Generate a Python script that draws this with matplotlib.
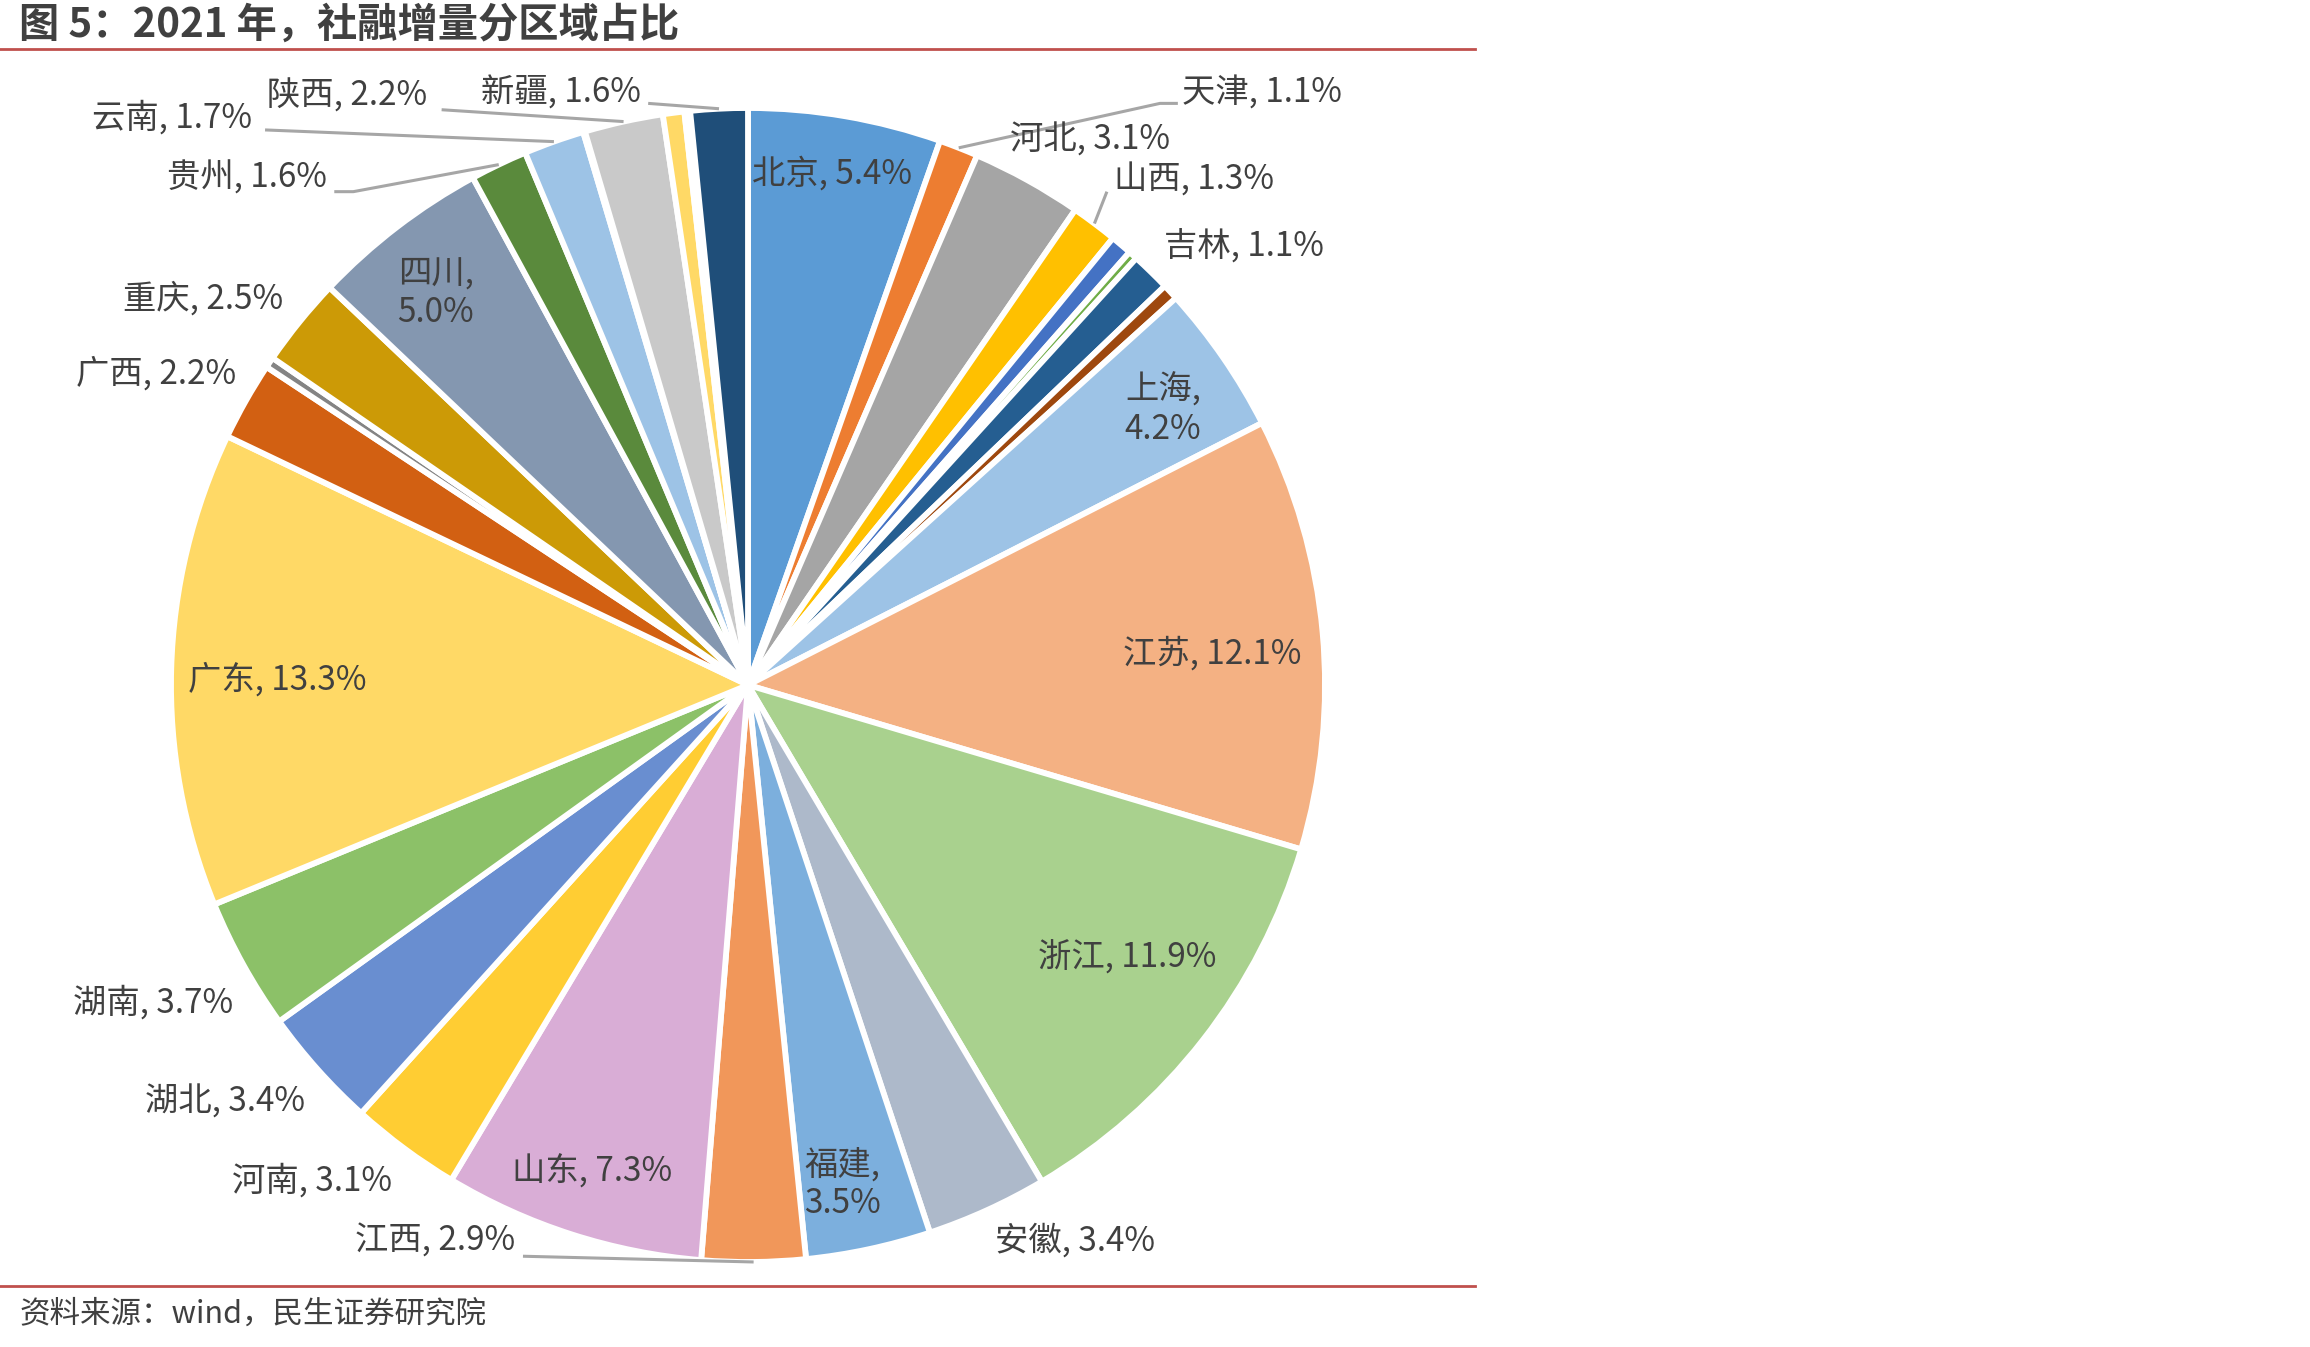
import numpy as np
import matplotlib
matplotlib.use('Agg')
import matplotlib.pyplot as plt

plt.rcParams['font.family'] = ['Noto Sans CJK SC', 'DejaVu Sans']

# share of 2021 social financing increment by province (%), clockwise from top
provinces = ['北京', '天津', '河北', '山西', '内蒙古', '辽宁', '吉林', '黑龙江',
             '上海', '江苏', '浙江', '安徽', '福建', '江西', '山东', '河南',
             '湖北', '湖南', '广东', '广西', '海南', '重庆', '四川', '贵州',
             '云南', '西藏', '陕西', '甘肃', '青海', '宁夏', '新疆']
shares = [5.4, 1.1, 3.1, 1.3, 0.6, 0.25, 1.1, 0.45,
          4.2, 12.1, 11.9, 3.4, 3.5, 2.9, 7.3, 3.1,
          3.4, 3.7, 13.3, 2.2, 0.3, 2.5, 5.0, 1.6,
          1.7, 0.05, 2.2, 0.6, 0.08, 0.08, 1.6]
# labelled slices only; the tiny ones carry no label in the source
labelled = ['北京', '天津', '河北', '山西', '吉林', '上海', '江苏', '浙江', '安徽',
            '福建', '江西', '山东', '河南', '湖北', '湖南', '广东', '广西', '重庆',
            '四川', '贵州', '云南', '陕西', '新疆']
two_line = ['上海', '福建', '四川']

colors = ['#5B9BD5', '#ED7D31', '#A5A5A5', '#FFC000', '#4472C4', '#70AD47', '#255E91', '#9E480E',
          '#9DC3E6', '#F4B183', '#A9D18E', '#ADB9CA', '#7CAFDD', '#F1975A', '#D9ADD6', '#FFCD33',
          '#698ED0', '#8CC168', '#FFD966', '#D26012', '#848484', '#CC9A06', '#8497B0', '#5A8A3C',
          '#9DC3E6', '#F4B183', '#C9C9C9', '#FFD966', '#ADB9CA', '#C9C9C9', '#1F4E79']

# label placement (data units, pie radius = 1): x, y, ha
label_pos = {
    '北京': (0.145, 0.885, 'center'), '天津': (0.753, 1.026, 'left'),
    '河北': (0.592, 0.944, 'center'), '山西': (0.635, 0.875, 'left'),
    '吉林': (0.860, 0.760, 'center'), '上海': (0.719, 0.477, 'center'),
    '江苏': (0.804, 0.054, 'center'), '浙江': (0.658, -0.474, 'center'),
    '安徽': (0.566, -0.964, 'center'), '福建': (0.163, -0.865, 'center'),
    '江西': (-0.403, -0.964, 'right'), '山东': (-0.270, -0.842, 'center'),
    '河南': (-0.755, -0.860, 'center'), '湖北': (-0.906, -0.722, 'center'),
    '湖南': (-1.031, -0.551, 'center'), '广东': (-0.816, 0.008, 'center'),
    '广西': (-1.026, 0.538, 'center'), '重庆': (-0.944, 0.668, 'center'),
    '四川': (-0.541, 0.679, 'center'), '贵州': (-0.730, 0.878, 'right'),
    '云南': (-0.860, 0.982, 'right'), '陕西': (-0.556, 1.020, 'right'),
    '新疆': (-0.186, 1.026, 'right'),
}
# leader lines: points after the slice edge
leaders = {
    '天津': [(0.714, 1.008), (0.745, 1.008)],
    '山西': [(0.622, 0.855)],
    '贵州': [(-0.684, 0.855), (-0.717, 0.855)],
    '云南': [(-0.837, 0.962)],
    '陕西': [(-0.531, 0.997)],
    '新疆': [(-0.173, 1.008)],
    '江西': [(-0.390, -0.990)],
}

W, H = 2310, 1347
fig = plt.figure(figsize=(W / 100, H / 100), dpi=100)
cx, cy, r = 748, 685, 577
ax = fig.add_axes([(cx - r) / W, (H - cy - r) / H, 2 * r / W, 2 * r / H])

wedges, _ = ax.pie(shares, colors=colors, startangle=90, counterclock=False,
                   radius=1.0, wedgeprops=dict(edgecolor='white', linewidth=4.2))
ax.set_xlim(-1, 1)
ax.set_ylim(-1, 1)
ax.set_aspect('equal')
ax.axis('off')

txt_color = '#404040'
for w, name, val in zip(wedges, provinces, shares):
    if name not in labelled:
        continue
    x, y, ha = label_pos[name]
    sep = ',\n' if name in two_line else ', '
    ax.text(x, y, f'{name}{sep}{val:.1f}%', ha=ha, va='center', fontsize=24,
            color=txt_color, linespacing=1.15)
    if name in leaders:
        mid = np.deg2rad((w.theta1 + w.theta2) / 2)
        pts = [(np.cos(mid), np.sin(mid))] + leaders[name]
        xs, ys = zip(*pts)
        ax.plot(xs, ys, color='#A6A6A6', lw=2.2, clip_on=False, solid_capstyle='butt')

fig.text(19 / W, 1 - 25 / H, '图 5：2021 年，社融增量分区域占比', fontsize=29,
         fontweight='bold', color='#404040', ha='left', va='center')
fig.add_artist(plt.Line2D([0, 1475 / W], [1 - 49 / H, 1 - 49 / H], color='#C0504D', lw=2))
fig.add_artist(plt.Line2D([0, 1475 / W], [1 - 1286 / H, 1 - 1286 / H], color='#C0504D', lw=2))
fig.text(19 / W, 1 - 1314 / H, '资料来源：wind，民生证券研究院', fontsize=22,
         color='#404040', ha='left', va='center')

fig.savefig('out.png', dpi=100, facecolor='white')
